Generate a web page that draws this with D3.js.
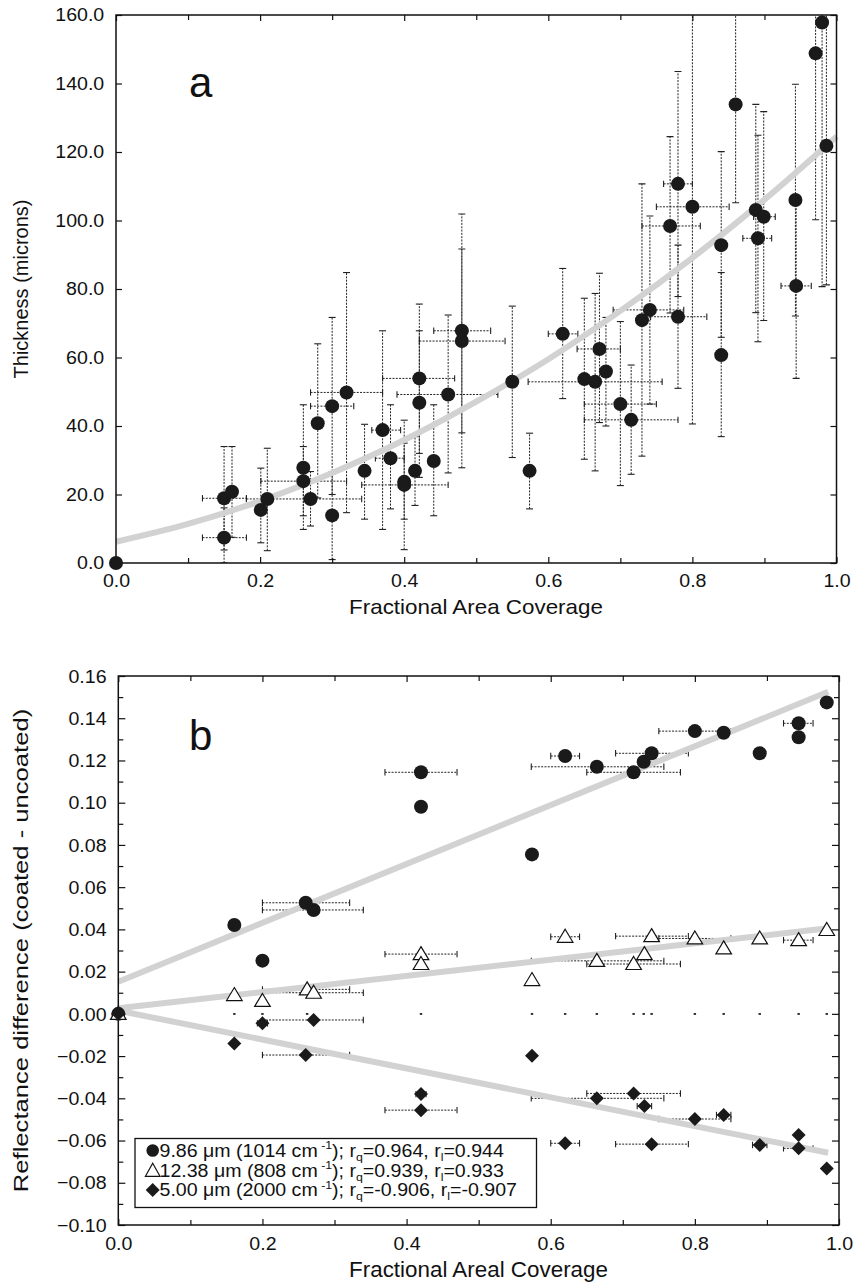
<!DOCTYPE html>
<html><head><meta charset="utf-8">
<script src="https://cdn.jsdelivr.net/npm/d3@7"></script>
<style>
html,body{margin:0;padding:0;background:#fff;}
svg{display:block;font-family:"Liberation Sans",Arial,Helvetica,sans-serif;}
</style></head>
<body>
<svg id="chart" width="854" height="1282"></svg>
<script>
// ---------- Panel a data ----------
const aXTicks = [0, 0.2, 0.4, 0.6, 0.8, 1.0];
const aXMinor = [0.1, 0.3, 0.5, 0.7, 0.9];
const aYTicks = [0, 20, 40, 60, 80, 100, 120, 140, 160];
const aX   = [0, .150, .161, .150, .201, .210, .260, .260, .270, .280, .300, .300, .320, .345, .370, .381, .400, .400, .415, .421, .421, .441, .461, .480, .480, .550, .574, .620, .650, .665, .671, .680, .700, .715, .730, .741, .769, .780, .780, .800, .840, .840, .860, .888, .891, .899, .943, .944, .971, .980, .986];
const aY   = [0, 18.9, 20.8, 7.4, 15.5, 18.7, 27.8, 23.9, 18.7, 40.8, 45.8, 13.9, 49.8, 26.9, 38.8, 30.6, 23.7, 22.8, 26.9, 53.9, 46.8, 29.8, 49.2, 67.8, 64.8, 52.9, 26.9, 66.9, 53.7, 52.9, 62.5, 55.9, 46.4, 41.8, 70.9, 73.9, 98.4, 110.7, 71.9, 104.0, 92.8, 60.7, 133.9, 103.1, 94.8, 101.1, 106.0, 80.9, 148.8, 157.8, 121.8];
const aXLo = [null, .120, null, .120, null, null, null, .201, .181, null, .270, null, .270, null, .355, .360, null, .341, null, .370, null, null, .390, .441, .421, null, null, .600, null, .572, .640, null, .650, .650, null, .690, .730, .760, .742, .750, null, null, null, null, .870, .885, null, .923, null, null, null];
const aXHi = [null, .181, null, .181, null, null, null, .320, .341, null, .330, null, .370, null, .395, .400, null, .461, null, .470, null, null, .530, .520, .540, null, null, .641, null, .758, .700, null, .750, .780, null, .788, .811, .800, .820, .851, null, null, null, null, .910, .915, null, .965, null, null, null];
const aYLo = [null, 3.8, 7.5, 0, 5.9, 3.6, 13.8, 9.8, 10.8, 19.0, 20.0, 1.0, 14.7, 12.8, 9.8, 15.8, 12.8, 3.9, 16.8, 32.0, 25.0, 13.8, 26.3, 38.0, 27.8, 30.8, 15.8, 48.0, 30.3, 26.9, 41.0, 40.0, 22.6, 25.9, 31.2, 46.4, 73.0, 77.8, 51.0, 40.6, 65.9, 36.9, 105.2, 73.1, 64.6, 70.8, 72.1, 53.9, 100.2, 80.7, 81.2];
const aYHi = [null, 34.0, 34.0, 16.1, 27.7, 33.5, 46.2, 34.0, 26.7, 64.0, 71.7, 26.7, 84.8, 40.5, 67.8, 46.2, 41.7, 35.0, 36.9, 75.6, 67.8, 46.2, 72.4, 101.9, 91.7, 75.0, 37.9, 86.0, 77.3, 78.7, 84.6, 71.7, 70.5, 57.8, 110.7, 101.3, 124.5, 143.5, 92.8, 170, 120.1, 84.8, 170, 133.9, 124.9, 131.8, 139.8, 106.0, 170, 170, 170];
// grey fitted curve, read at 0.1 steps
const aFitX = [0, 0.1, 0.2, 0.3, 0.4, 0.5, 0.6, 0.7, 0.8, 0.9, 1.0];
const aFitY = [6.2, 11.4, 18.1, 26.3, 35.9, 47.1, 59.5, 73.6, 89.1, 106.1, 124.5];

// ---------- Panel b data ----------
const bXTicks = [0, 0.2, 0.4, 0.6, 0.8, 1.0];
const bXMinor = [0.1, 0.3, 0.5, 0.7, 0.9];
const bYTicks = [-0.10, -0.08, -0.06, -0.04, -0.02, 0, 0.02, 0.04, 0.06, 0.08, 0.10, 0.12, 0.14, 0.16];
const bYMinor = [-0.09, -0.07, -0.05, -0.03, -0.01, 0.01, 0.03, 0.05, 0.07, 0.09, 0.11, 0.13, 0.15];

const c986X   = [0, .161, .200, .260, .271, .420, .420, .574, .620, .664, .715, .729, .740, .800, .840, .890, .944, .944, .983];
const c986Y   = [0, .0421, .0252, .0526, .0492, .1144, .0981, .0755, .1221, .1170, .1144, .1194, .1234, .1339, .1331, .1234, .1376, .1310, .1475];
const c986XLo = [null, null, .193, .200, .200, .370, .413, null, .600, .573, .650, null, .690, .750, null, null, .923, null, null];
const c986XHi = [null, null, .207, .321, .340, .470, .427, null, .640, .757, .780, null, .791, .850, null, null, .964, null, null];

const t1238X   = [0, .161, .200, .262, .271, .420, .420, .574, .620, .664, .715, .730, .740, .800, .840, .890, .944, .983];
const t1238Y   = [0, .0089, .0061, .0116, .0100, .0283, .0236, .0160, .0365, .0251, .0236, .0283, .0368, .0357, .0310, .0357, .0349, .0397];
const t1238XLo = [null, null, null, .200, .200, .370, null, null, .600, .573, .650, null, .690, .750, null, null, .923, null];
const t1238XHi = [null, null, null, .321, .340, .470, null, null, .640, .757, .780, null, .791, .850, null, null, .964, null];

const d500X   = [0, .161, .200, .260, .271, .420, .420, .574, .620, .664, .715, .730, .740, .800, .840, .890, .944, .944, .983];
const d500Y   = [0, -.0140, -.0045, -.0195, -.0029, -.0380, -.0456, -.0198, -.0613, -.0400, -.0377, -.0437, -.0617, -.0498, -.0479, -.0621, -.0574, -.0637, -.0732];
const d500XLo = [null, null, .193, .200, .200, .413, .370, null, .600, .573, .650, .720, .690, .750, .830, .880, null, .923, null];
const d500XHi = [null, null, .207, .321, .340, .427, .470, null, .640, .757, .780, .740, .791, .850, .850, .900, null, .964, null];

// small markers on the zero line
const zeroDotX = [.161, .200, .262, .420, .574, .620, .664, .715, .729, .740, .800, .840, .890, .944, .983];

const bFitX    = [0, 0.985];
const bFit986  = [0.0152, 0.1525];
const bFit1238 = [0.0026, 0.0405];
const bFit500  = [0.0015, -0.0658];

const legendLabels = [
  {wl: "9.86 μm (1014 cm", rq: "=0.964, r", rl: "=0.944"},
  {wl: "12.38 μm (808 cm", rq: "=0.939, r", rl: "=0.933"},
  {wl: "5.00 μm (2000 cm", rq: "=-0.906, r", rl: "=-0.907"}
];

// ---------- drawing ----------
const SX = 1.12;          // horizontal stretch of the original figure's lettering
const FS = 17.5;
const svg = d3.select("#chart");
const GREY = "#d2d2d2";
const INK = "#1a1a1a";

function hText(g, x, y, str, size, anchor, sy) {
  return g.append("text").attr("transform", `translate(${x},${y}) scale(${SX},${sy || 1})`)
    .attr("text-anchor", anchor || "start").attr("font-size", size).attr("fill", "#111").text(str);
}

function frame(x, y, xTicks, xMinor, yTicks, yMinor, yFmt, xFmt, ySize, sy) {
  const [x0, x1] = x.range(), [yb, yt] = y.range();
  const g = svg.append("g");
  const left = g.append("g").attr("transform", `translate(${x0},0)`)
    .call(d3.axisLeft(y).tickValues(yTicks).tickFormat(yFmt).tickSizeInner(-ySize).tickSizeOuter(0).tickPadding(10.5));
  left.selectAll("text").attr("transform", `scale(${SX},${sy})`).attr("font-size", FS).attr("font-family", null).attr("fill", "#111");
  g.append("g").attr("transform", `translate(${x1},0)`)
    .call(d3.axisRight(y).tickValues(yTicks).tickFormat("").tickSizeInner(-ySize).tickSizeOuter(0));
  if (yMinor) {
    g.append("g").attr("transform", `translate(${x0},0)`)
      .call(d3.axisLeft(y).tickValues(yMinor).tickFormat("").tickSizeInner(-5).tickSizeOuter(0));
    g.append("g").attr("transform", `translate(${x1},0)`)
      .call(d3.axisRight(y).tickValues(yMinor).tickFormat("").tickSizeInner(-5).tickSizeOuter(0));
  }
  const bottom = g.append("g").attr("transform", `translate(0,${yb})`)
    .call(d3.axisBottom(x).tickValues(xTicks).tickFormat(xFmt).tickSizeInner(-6).tickSizeOuter(0).tickPadding(11.5 / sy));
  bottom.selectAll("text").attr("transform", `scale(${SX},${sy})`).attr("font-size", FS).attr("font-family", null).attr("fill", "#111");
  g.append("g").attr("transform", `translate(0,${yt})`)
    .call(d3.axisTop(x).tickValues(xTicks).tickFormat("").tickSizeInner(-6).tickSizeOuter(0));
  g.append("g").attr("transform", `translate(0,${yb})`)
    .call(d3.axisBottom(x).tickValues(xMinor).tickFormat("").tickSizeInner(-5).tickSizeOuter(0));
  g.append("g").attr("transform", `translate(0,${yt})`)
    .call(d3.axisTop(x).tickValues(xMinor).tickFormat("").tickSizeInner(-5).tickSizeOuter(0));
  g.selectAll(".domain").remove();
  g.selectAll(".tick line").attr("stroke", "#111").attr("stroke-width", 1.2);
  g.append("rect").attr("x", x0).attr("y", yt).attr("width", x1 - x0).attr("height", yb - yt)
    .attr("fill", "none").attr("stroke", "#111").attr("stroke-width", 1.5);
}

function errBars(g, x, y, xs, ys, xlo, xhi, ylo, yhi) {
  const dash = "2,1.3";
  xs.forEach((xv, i) => {
    const cx = x(xv), cy = y(ys[i]);
    if (xlo && xlo[i] != null) {
      const a = x(xlo[i]), b = x(xhi[i]);
      g.append("line").attr("x1", a).attr("x2", b).attr("y1", cy).attr("y2", cy)
        .attr("stroke", "#222").attr("stroke-width", 1).attr("stroke-dasharray", dash);
      [a, b].forEach(p => g.append("line").attr("x1", p).attr("x2", p).attr("y1", cy - 3.2).attr("y2", cy + 3.2)
        .attr("stroke", "#222").attr("stroke-width", 1.1));
    }
    if (ylo && ylo[i] != null) {
      const a = y(ylo[i]), b = y(yhi[i]);
      g.append("line").attr("x1", cx).attr("x2", cx).attr("y1", a).attr("y2", b)
        .attr("stroke", "#222").attr("stroke-width", 1).attr("stroke-dasharray", dash);
      [a, b].forEach(p => g.append("line").attr("x1", cx - 3.5).attr("x2", cx + 3.5).attr("y1", p).attr("y2", p)
        .attr("stroke", "#222").attr("stroke-width", 1.1));
    }
  });
}

const triPath = (cx, cy) => `M${cx},${cy - 7.5}L${cx + 7.8},${cy + 5.5}L${cx - 7.8},${cy + 5.5}Z`;
const diaPath = (cx, cy) => `M${cx},${cy - 7}L${cx + 7},${cy}L${cx},${cy + 7}L${cx - 7},${cy}Z`;

// ===== Panel a =====
const xa = d3.scaleLinear().domain([0, 1]).range([116, 836.5]);
const ya = d3.scaleLinear().domain([0, 160]).range([563, 15]);
svg.append("defs").append("clipPath").attr("id", "clipA")
  .append("rect").attr("x", 116).attr("y", 15).attr("width", 720.5).attr("height", 548);
const ea = svg.append("g").attr("clip-path", "url(#clipA)");
errBars(ea, xa, ya, aX, aY, aXLo, aXHi, aYLo, aYHi);
svg.append("path").datum(aFitX.map((v, i) => [v, aFitY[i]]))
  .attr("d", d3.line().x(d => xa(d[0])).y(d => ya(d[1])).curve(d3.curveMonotoneX))
  .attr("fill", "none").attr("stroke", GREY).attr("stroke-width", 6);
frame(xa, ya, aXTicks, aXMinor, aYTicks, null, d3.format(".1f"), d3.format(".1f"), 6, 1);
svg.append("g").selectAll("circle").data(aX).join("circle")
  .attr("cx", d => xa(d)).attr("cy", (d, i) => ya(aY[i])).attr("r", 7).attr("fill", INK);
svg.append("text").attr("x", 189).attr("y", 96.5).attr("font-size", 42).attr("fill", "#111").text("a");
hText(svg, 476, 614, "Fractional Area Coverage", 20, "middle", 1);
svg.append("text").attr("transform", `translate(28,289) rotate(-90)`).attr("text-anchor", "middle")
  .attr("font-size", 20).attr("fill", "#111").text("Thickness (microns)");

// ===== Panel b =====
const xb = d3.scaleLinear().domain([0, 1]).range([118.3, 839]);
const yb = d3.scaleLinear().domain([-0.10, 0.16]).range([1225, 676]);
const eb = svg.append("g");
errBars(eb, xb, yb, c986X, c986Y, c986XLo, c986XHi, null, null);
errBars(eb, xb, yb, t1238X, t1238Y, t1238XLo, t1238XHi, null, null);
errBars(eb, xb, yb, d500X, d500Y, d500XLo, d500XHi, null, null);
eb.selectAll("rect.zd").data(zeroDotX).join("rect").attr("class", "zd")
  .attr("x", d => xb(d) - 1.2).attr("y", yb(0) - 0.8).attr("width", 2.4).attr("height", 1.8).attr("fill", "#222");
const lineB = d3.line().x(d => xb(d[0])).y(d => yb(d[1]));
[bFit986, bFit1238, bFit500].forEach(f => {
  svg.append("path").datum(bFitX.map((v, i) => [v, f[i]])).attr("d", lineB)
    .attr("fill", "none").attr("stroke", GREY).attr("stroke-width", 6);
});
frame(xb, yb, bXTicks, bXMinor, bYTicks, bYMinor, d3.format(".2f"), d3.format(".1f"), 7, 1.1);
const mb = svg.append("g");
mb.selectAll("circle").data(c986X).join("circle")
  .attr("cx", d => xb(d)).attr("cy", (d, i) => yb(c986Y[i])).attr("r", 7).attr("fill", INK);
mb.selectAll("path.tri").data(t1238X).join("path").attr("class", "tri")
  .attr("d", (d, i) => triPath(xb(d), yb(t1238Y[i]))).attr("fill", "#fff").attr("stroke", "#111").attr("stroke-width", 1.2);
mb.selectAll("path.dia").data(d500X).join("path").attr("class", "dia")
  .attr("d", (d, i) => diaPath(xb(d), yb(d500Y[i]))).attr("fill", INK);
svg.append("text").attr("x", 189).attr("y", 750).attr("font-size", 42).attr("fill", "#111").text("b");
hText(svg, 478.5, 1276.5, "Fractional Areal Coverage", 20, "middle", 1.08);
svg.append("text").attr("transform", `translate(28,950.5) rotate(-90) scale(1.28,1)`).attr("text-anchor", "middle")
  .attr("font-size", 20).attr("fill", "#111").text("Reflectance difference (coated - uncoated)");

// legend
const lg = svg.append("g");
lg.append("rect").attr("x", 135).attr("y", 1138.5).attr("width", 401.5).attr("height", 69)
  .attr("fill", "#fff").attr("stroke", "#111").attr("stroke-width", 1.3);
const rowY = [1156.8, 1176.6, 1196.4];
legendLabels.forEach((L, i) => {
  const my = rowY[i] - 6.3, mx = 152.7;
  if (i === 0) lg.append("circle").attr("cx", mx).attr("cy", my).attr("r", 6.3).attr("fill", INK);
  if (i === 1) lg.append("path").attr("d", `M${mx},${my - 7}L${mx + 7.3},${my + 6}L${mx - 7.3},${my + 6}Z`).attr("fill", "#fff").attr("stroke", "#111").attr("stroke-width", 1.2);
  if (i === 2) lg.append("path").attr("d", diaPath(mx, my)).attr("fill", INK);
  const t = lg.append("text").attr("transform", `translate(159.5,${rowY[i]}) scale(${SX},1)`)
    .attr("font-size", FS).attr("fill", "#111");
  t.append("tspan").text(L.wl);
  t.append("tspan").attr("font-size", 11).attr("dy", -7.5).text(" -1");
  t.append("tspan").attr("dy", 7.5).text("); r");
  t.append("tspan").attr("font-size", 11).attr("dy", 4).text("q");
  t.append("tspan").attr("dy", -4).text(L.rq);
  t.append("tspan").attr("font-size", 11).attr("dy", 4).text("l");
  t.append("tspan").attr("dy", -4).text(L.rl);
});
</script>
</body></html>
